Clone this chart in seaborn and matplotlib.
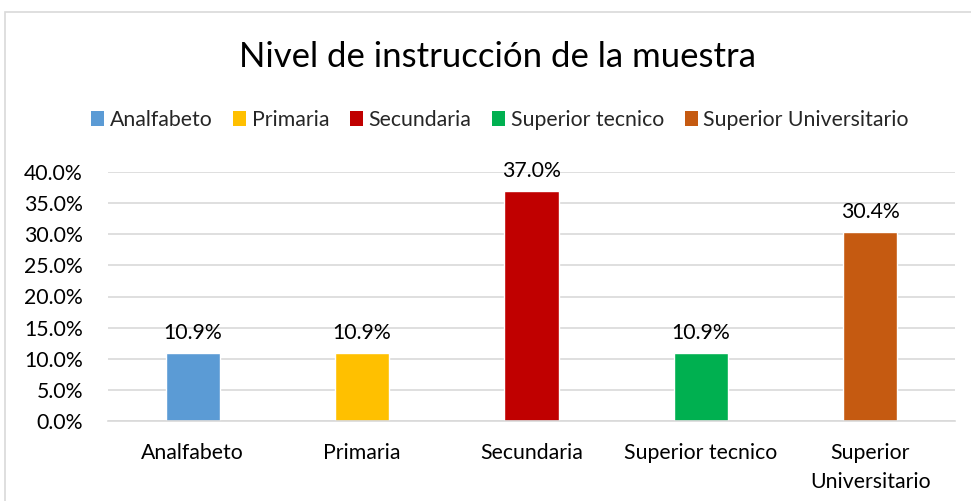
import matplotlib
matplotlib.use("Agg")
import matplotlib.pyplot as plt
import seaborn as sns
import pandas as pd
from matplotlib.patches import Rectangle, Patch
from matplotlib.ticker import PercentFormatter

categories = ["Analfabeto", "Primaria", "Secundaria", "Superior tecnico", "Superior Universitario"]
tick_labels = ["Analfabeto", "Primaria", "Secundaria", "Superior tecnico", "Superior\nUniversitario"]
values = [0.109, 0.109, 0.370, 0.109, 0.304]
colors = ["#5b9bd5", "#ffc000", "#c00000", "#00b050", "#c55a11"]
title = "Nivel de instrucción de la muestra"

sns.set_theme(style="white")
plt.rcParams["font.family"] = ["Lato", "DejaVu Sans"]

df = pd.DataFrame({"cat": categories, "val": values})

fig = plt.figure(figsize=(9.71, 5.01), dpi=100)
ax = fig.add_axes([108/971, 80/501, 847/971, 249/501])
sns.barplot(data=df, x="cat", y="val", hue="cat", palette=colors, dodge=False,
            width=0.32, legend=False, ax=ax, saturation=1)

fs = 15.3
ax.set_ylim(0, 0.40)
ax.set_yticks([i * 0.05 for i in range(9)])
ax.yaxis.set_major_formatter(PercentFormatter(1.0, decimals=1))
ax.set_xticks(range(len(categories)))
ax.set_xticklabels(tick_labels, fontsize=fs, color="#000000", linespacing=1.55)
ax.tick_params(axis="y", labelsize=fs, colors="#000000", length=0, pad=18)
ax.tick_params(axis="x", length=0, pad=16)
ax.set_xlabel("")
ax.set_ylabel("")
ax.grid(axis="y", color="#d9d9d9", linewidth=1.2)
ax.set_axisbelow(True)
for s in ["top", "right", "left"]:
    ax.spines[s].set_visible(False)
ax.spines["bottom"].set_color("#d9d9d9")
ax.spines["bottom"].set_linewidth(1.2)

for i, v in enumerate(values):
    ax.annotate(f"{v*100:.1f}%", (i, v), xytext=(0, 7), textcoords="offset points",
                ha="center", va="bottom", fontsize=fs, color="#000000")

fig.text(497/971, 1 - 57/501, title, ha="center", va="center", fontsize=25, color="#000000")

handles = [Patch(facecolor=c, edgecolor="none") for c in colors]
fig.legend(handles, categories, loc="center", bbox_to_anchor=(500/971, 1 - 120/501), ncol=5,
           frameon=False, fontsize=fs, handlelength=0.6, handleheight=0.7,
           handletextpad=0.25, columnspacing=1.0)

fig.patches.append(Rectangle((5/971, -0.05), 1.0, 1.05 - 12/501, transform=fig.transFigure,
                             fill=False, edgecolor="#d9d9d9", linewidth=1.2, clip_on=False))

fig.savefig("out.png", dpi=100)
